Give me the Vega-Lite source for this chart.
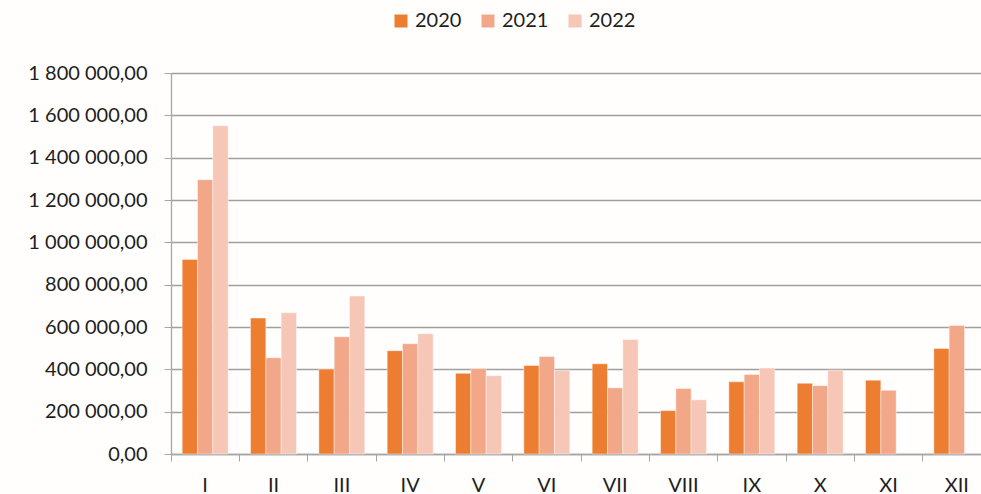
{
  "$schema": "https://vega.github.io/schema/vega-lite/v6.json",
  "autosize": {"type": "none"},
  "padding": {"left": 171, "top": 73, "right": 0, "bottom": 40},
  "width": 810,
  "height": 381,
  "background": "#fffefc",
  "config": {
    "view": {"stroke": null},
    "font": "Lato",
    "locale": {"number": {"decimal": ",", "thousands": " ", "grouping": [3], "currency": ["", ""]}}
  },
  "data": {
    "values": [
      {"month": "I", "year": "2020", "value": 919000},
      {"month": "I", "year": "2021", "value": 1296000},
      {"month": "I", "year": "2022", "value": 1551000},
      {"month": "II", "year": "2020", "value": 642000},
      {"month": "II", "year": "2021", "value": 455000},
      {"month": "II", "year": "2022", "value": 667000},
      {"month": "III", "year": "2020", "value": 401000},
      {"month": "III", "year": "2021", "value": 554000},
      {"month": "III", "year": "2022", "value": 746000},
      {"month": "IV", "year": "2020", "value": 488000},
      {"month": "IV", "year": "2021", "value": 521000},
      {"month": "IV", "year": "2022", "value": 568000},
      {"month": "V", "year": "2020", "value": 381000},
      {"month": "V", "year": "2021", "value": 404000},
      {"month": "V", "year": "2022", "value": 370000},
      {"month": "VI", "year": "2020", "value": 418000},
      {"month": "VI", "year": "2021", "value": 461000},
      {"month": "VI", "year": "2022", "value": 396000},
      {"month": "VII", "year": "2020", "value": 426000},
      {"month": "VII", "year": "2021", "value": 313000},
      {"month": "VII", "year": "2022", "value": 541000},
      {"month": "VIII", "year": "2020", "value": 205000},
      {"month": "VIII", "year": "2021", "value": 310000},
      {"month": "VIII", "year": "2022", "value": 256000},
      {"month": "IX", "year": "2020", "value": 341000},
      {"month": "IX", "year": "2021", "value": 376000},
      {"month": "IX", "year": "2022", "value": 406000},
      {"month": "X", "year": "2020", "value": 334000},
      {"month": "X", "year": "2021", "value": 323000},
      {"month": "X", "year": "2022", "value": 396000},
      {"month": "XI", "year": "2020", "value": 349000},
      {"month": "XI", "year": "2021", "value": 301000},
      {"month": "XII", "year": "2020", "value": 499000},
      {"month": "XII", "year": "2021", "value": 607000}
    ]
  },
  "mark": {"type": "bar", "stroke": "#ffffff", "strokeWidth": 0.6, "strokeOpacity": 0.7},
  "encoding": {
    "x": {
      "field": "month",
      "type": "nominal",
      "sort": ["I", "II", "III", "IV", "V", "VI", "VII", "VIII", "IX", "X", "XI", "XII"],
      "scale": {"range": [0, 820], "paddingInner": 0, "paddingOuter": 0},
      "axis": {
        "title": null,
        "labelAngle": 0,
        "bandPosition": 0,
        "labelFont": "Lato",
        "labelFontSize": 20,
        "labelColor": "#1e1e1e",
        "labelPadding": 14,
        "labelBaseline": "top",
        "tickSize": 7,
        "tickColor": "#a6a6a6",
        "domainColor": "#a6a6a6",
        "domainWidth": 1.3,
        "grid": false
      }
    },
    "xOffset": {
      "field": "year",
      "type": "nominal",
      "scale": {"paddingInner": 0, "paddingOuter": 0.73}
    },
    "y": {
      "field": "value",
      "type": "quantitative",
      "scale": {"domain": [0, 1800000], "nice": false},
      "axis": {
        "title": null,
        "values": [0, 200000, 400000, 600000, 800000, 1000000, 1200000, 1400000, 1600000, 1800000],
        "format": ",.2f",
        "labelFont": "Lato",
        "labelFontSize": 20,
        "labelColor": "#1e1e1e",
        "labelPadding": 17,
        "tickSize": 7,
        "tickColor": "#a6a6a6",
        "domainColor": "#a6a6a6",
        "domainWidth": 1.3,
        "gridColor": "#a0a0a0",
        "gridWidth": 1.3
      }
    },
    "color": {
      "field": "year",
      "type": "nominal",
      "scale": {"domain": ["2020", "2021", "2022"], "range": ["#ED7D31", "#F2A888", "#F6C6B7"]},
      "legend": {
        "title": null,
        "orient": "none",
        "direction": "horizontal",
        "legendX": 220,
        "legendY": -62,
        "symbolType": "square",
        "symbolSize": 169,
        "symbolStrokeWidth": 0,
        "labelFont": "Lato",
        "labelFontSize": 20,
        "labelColor": "#1e1e1e",
        "labelOffset": 4,
        "columnPadding": 16
      }
    }
  }
}
